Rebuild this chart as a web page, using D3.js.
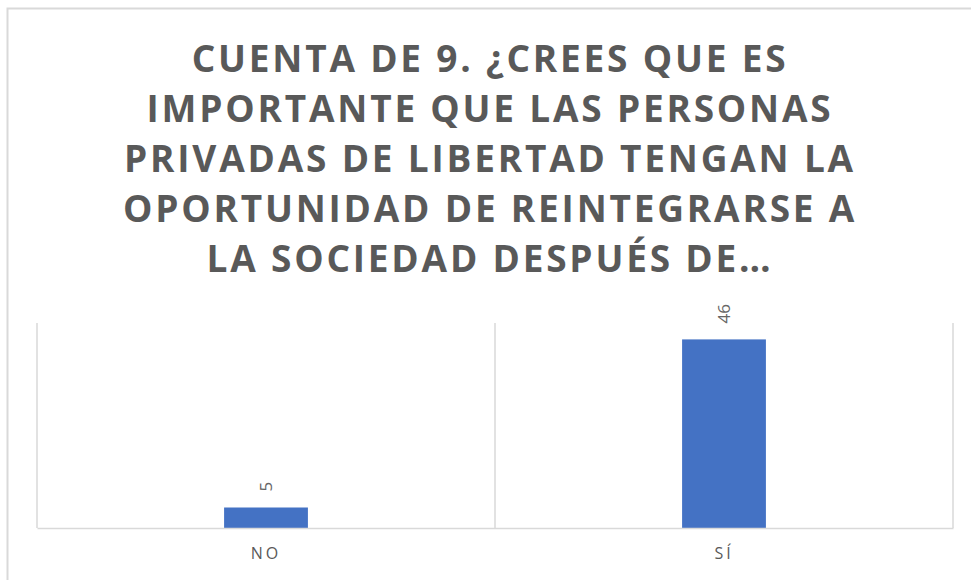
<!DOCTYPE html>
<html>
<head>
<meta charset="utf-8">
<script src="https://cdn.jsdelivr.net/npm/d3@7"></script>
<style>
  body { margin: 0; background: #fff; }
</style>
</head>
<body>
<div class="container"></div>
<script>
const w = 971;
const h = 580;

const categories = ['NO', 'SÍ'];
const counts = [5, 46];
const titleLines = [
  'CUENTA DE 9. ¿CREES QUE ES',
  'IMPORTANTE QUE LAS PERSONAS',
  'PRIVADAS DE LIBERTAD TENGAN LA',
  'OPORTUNIDAD DE REINTEGRARSE A',
  'LA SOCIEDAD DESPUÉS DE…'
];
const yMax = 50;

const plot = { left: 37, right: 953, top: 323, bottom: 528 };
const textColor = '#595959';
const gridColor = '#d9d9d9';

const svg = d3.select('.container')
  .append('svg')
  .attr('width', w)
  .attr('height', h);

// outer chart frame (only top and left visible in crop)
svg.append('path')
  .attr('d', `M7.5,${h} L7.5,8.5 L${w},8.5`)
  .attr('fill', 'none')
  .attr('stroke', gridColor)
  .attr('stroke-width', 2);

// title
svg.append('g')
  .selectAll('text')
  .data(titleLines)
  .enter()
  .append('text')
  .attr('x', 490)
  .attr('y', (d, i) => 72 + i * 50)
  .attr('text-anchor', 'middle')
  .attr('font-family', '"Open Sans", sans-serif')
  .attr('font-weight', 'bold')
  .attr('font-size', 37)
  .attr('letter-spacing', 2.8)
  .attr('fill', textColor)
  .text(d => d);

const x = d3.scaleBand()
  .domain(categories)
  .range([plot.left, plot.right])
  .paddingInner(0)
  .paddingOuter(0);

const y = d3.scaleLinear()
  .domain([0, yMax])
  .range([plot.bottom, plot.top]);

// category boundary lines
const bounds = categories.map(c => x(c)).concat([x(categories[categories.length - 1]) + x.bandwidth()]);
svg.append('g')
  .selectAll('line')
  .data(bounds)
  .enter()
  .append('line')
  .attr('x1', d => d)
  .attr('x2', d => d)
  .attr('y1', plot.top)
  .attr('y2', plot.bottom)
  .attr('stroke', gridColor)
  .attr('stroke-width', 1.5);

// bars
const barW = x.bandwidth() * 0.183;
svg.append('g')
  .selectAll('rect')
  .data(counts)
  .enter()
  .append('rect')
  .attr('x', (d, i) => x(categories[i]) + (x.bandwidth() - barW) / 2)
  .attr('y', d => y(d))
  .attr('width', barW)
  .attr('height', d => y(0) - y(d))
  .attr('fill', '#4472c4');

// x axis
const xAxis = svg.append('g')
  .attr('transform', `translate(0,${plot.bottom})`)
  .call(d3.axisBottom(x).tickSize(0).tickPadding(20));
xAxis.select('.domain')
  .attr('stroke', gridColor)
  .attr('stroke-width', 1.5);
xAxis.selectAll('text')
  .attr('font-family', '"Open Sans", sans-serif')
  .attr('font-size', 16)
  .attr('letter-spacing', 3)
  .attr('fill', textColor);

// value labels, rotated
svg.append('g')
  .selectAll('text')
  .data(counts)
  .enter()
  .append('text')
  .attr('transform', (d, i) =>
    `translate(${x(categories[i]) + x.bandwidth() / 2 + 6},${y(d) - 16}) rotate(-90)`)
  .attr('text-anchor', 'start')
  .attr('font-family', '"Open Sans", sans-serif')
  .attr('font-size', 17)
  .attr('fill', '#666666')
  .text(d => d);
</script>
</body>
</html>
